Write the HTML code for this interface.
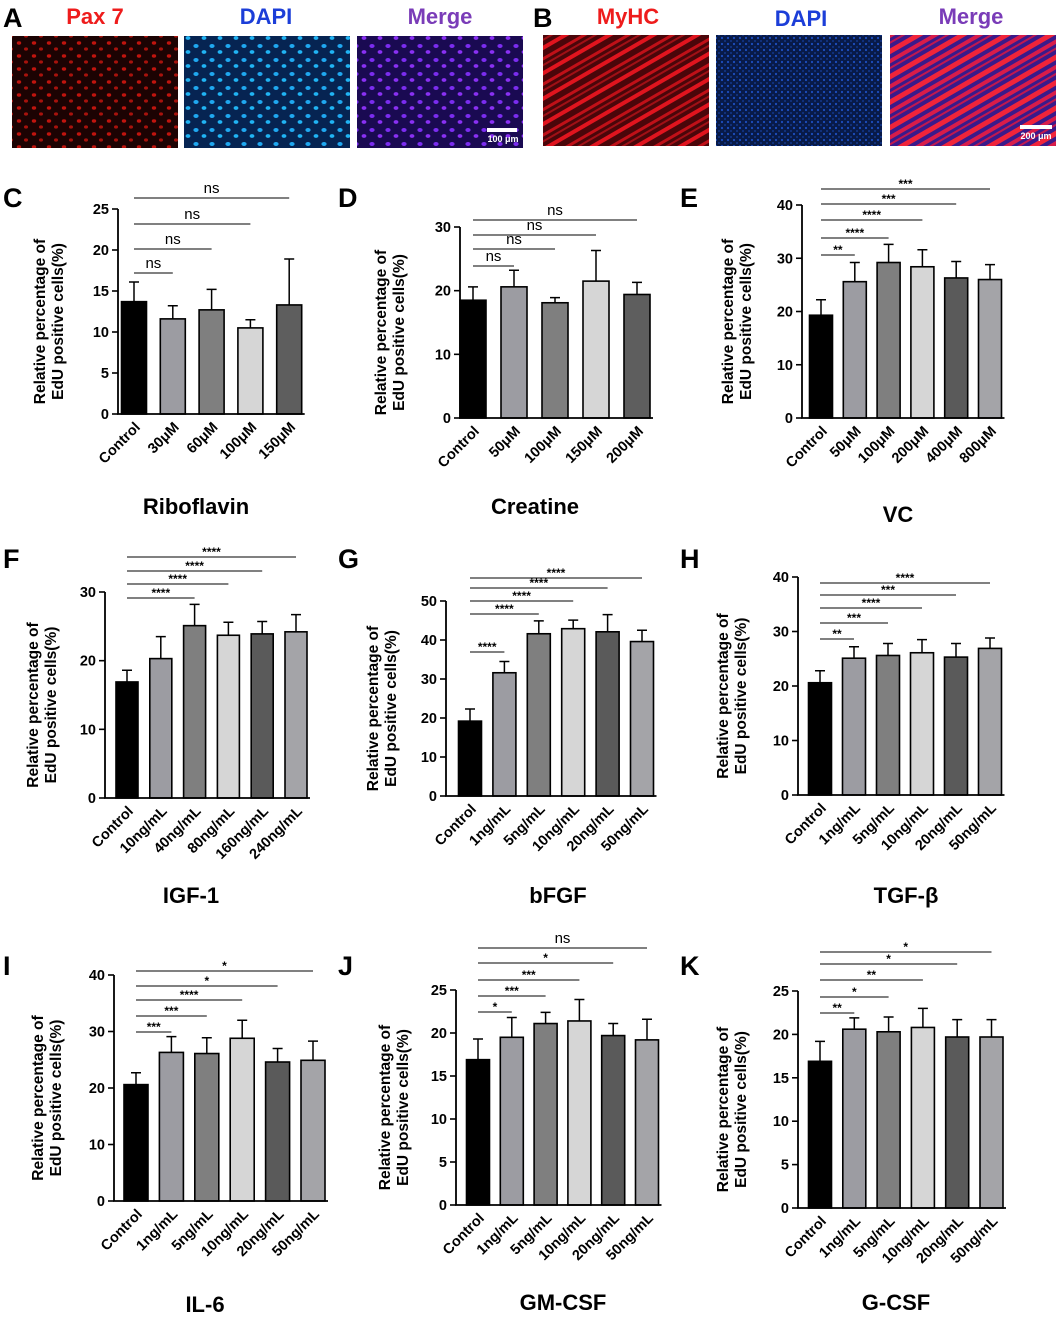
<!DOCTYPE html>
<html><head><meta charset="utf-8"><style>
html,body{margin:0;padding:0;background:#fff;}
svg{display:block;font-family:"Liberation Sans",Arial,sans-serif;}
</style></head><body>
<svg id="fig" width="1059" height="1318" viewBox="0 0 1059 1318" xmlns="http://www.w3.org/2000/svg">
<defs>
<pattern id="pRed" width="15" height="13" patternUnits="userSpaceOnUse"><rect width="15" height="13" fill="#1c0303"/><ellipse cx="4" cy="4" rx="2.2" ry="1.7" fill="#c0140e"/><ellipse cx="11" cy="10" rx="2" ry="1.6" fill="#a8120c"/></pattern>
<pattern id="pBlue" width="16" height="14" patternUnits="userSpaceOnUse"><rect width="16" height="14" fill="#062452"/><ellipse cx="4" cy="4" rx="2.6" ry="2" fill="#1fa8f0"/><ellipse cx="12" cy="10" rx="2.4" ry="1.9" fill="#20b4f4"/></pattern>
<pattern id="pPur" width="16" height="14" patternUnits="userSpaceOnUse"><rect width="16" height="14" fill="#1a0a52"/><ellipse cx="4" cy="4" rx="2.6" ry="2" fill="#7b2cf0"/><ellipse cx="12" cy="10" rx="2.4" ry="1.9" fill="#8a30f4"/></pattern>
<pattern id="pMy" width="40" height="22" patternUnits="userSpaceOnUse" patternTransform="rotate(-30)"><rect width="40" height="22" fill="#4a060a"/><rect y="3" width="40" height="4" fill="#e0141e"/><rect y="13" width="40" height="3" fill="#c01018"/><rect y="19" width="40" height="2" fill="#a01016"/></pattern>
<pattern id="pDB" width="6" height="6" patternUnits="userSpaceOnUse"><rect width="6" height="6" fill="#081a48"/><circle cx="2" cy="2" r="1.1" fill="#1d4ec0"/><circle cx="5" cy="5" r="0.9" fill="#1540a0"/></pattern>
<pattern id="pMB" width="40" height="22" patternUnits="userSpaceOnUse" patternTransform="rotate(-30)"><rect width="40" height="22" fill="#3a1a8a"/><rect y="3" width="40" height="5" fill="#f0243a"/><rect y="12" width="40" height="4" fill="#d81c4a"/><rect y="19" width="40" height="2" fill="#c01850"/></pattern>
</defs>
<g id="top">
<text x="3" y="27" font-size="27" font-weight="bold">A</text>
<text x="95" y="24" font-size="22" font-weight="bold" fill="#ee1c1c" text-anchor="middle">Pax 7</text>
<text x="266" y="24" font-size="22" font-weight="bold" fill="#1c3ed8" text-anchor="middle">DAPI</text>
<text x="440" y="24" font-size="22" font-weight="bold" fill="#7a3cb8" text-anchor="middle">Merge</text>
<rect x="12" y="36" width="166" height="112" fill="url(#pRed)"/>
<rect x="184" y="36" width="166" height="112" fill="url(#pBlue)"/>
<rect x="357" y="36" width="166" height="112" fill="url(#pPur)"/>
<rect x="487" y="128" width="30" height="4" fill="#fff"/>
<text x="503" y="142" font-size="9" font-weight="bold" fill="#fff" text-anchor="middle">100 μm</text>
<text x="533" y="27" font-size="27" font-weight="bold">B</text>
<text x="628" y="24" font-size="22" font-weight="bold" fill="#ee1c1c" text-anchor="middle">MyHC</text>
<text x="801" y="26" font-size="22" font-weight="bold" fill="#1c3ed8" text-anchor="middle">DAPI</text>
<text x="971" y="24" font-size="22" font-weight="bold" fill="#7a3cb8" text-anchor="middle">Merge</text>
<rect x="543" y="35" width="166" height="111" fill="url(#pMy)"/>
<rect x="716" y="35" width="166" height="111" fill="url(#pDB)"/>
<rect x="890" y="35" width="166" height="111" fill="url(#pMB)"/>
<rect x="1020" y="125" width="32" height="4" fill="#fff"/>
<text x="1036" y="139" font-size="9" font-weight="bold" fill="#fff" text-anchor="middle">200 μm</text>
</g>
</svg>
<script>
// ---- data arrays ----
const ribCats=["Control","30μM","60μM","100μM","150μM"];
const ribVals=[13.7,11.6,12.7,10.5,13.3];
const ribErr=[16.1,13.2,15.2,11.5,18.9];
const ribSig=[[0,1,"ns"],[0,2,"ns"],[0,3,"ns"],[0,4,"ns"]];
const ribTicks=[0,5,10,15,20,25];

const creCats=["Control","50μM","100μM","150μM","200μM"];
const creVals=[18.5,20.6,18.1,21.5,19.4];
const creErr=[20.6,23.2,18.9,26.3,21.3];
const creSig=[[0,1,"ns"],[0,2,"ns"],[0,3,"ns"],[0,4,"ns"]];
const creTicks=[0,10,20,30];

const vcCats=["Control","50μM","100μM","200μM","400μM","800μM"];
const vcVals=[19.3,25.6,29.2,28.4,26.3,26.0];
const vcErr=[22.2,29.2,32.6,31.6,29.4,28.8];
const vcSig=[[0,1,"**"],[0,2,"****"],[0,3,"****"],[0,4,"***"],[0,5,"***"]];
const vcTicks=[0,10,20,30,40];

const igfCats=["Control","10ng/mL","40ng/mL","80ng/mL","160ng/mL","240ng/mL"];
const igfVals=[16.9,20.3,25.1,23.7,23.9,24.2];
const igfErr=[18.6,23.5,28.2,25.6,25.7,26.7];
const igfSig=[[0,2,"****"],[0,3,"****"],[0,4,"****"],[0,5,"****"]];
const igfTicks=[0,10,20,30];

const bfgfCats=["Control","1ng/mL","5ng/mL","10ng/mL","20ng/mL","50ng/mL"];
const bfgfVals=[19.2,31.6,41.6,42.9,42.1,39.6];
const bfgfErr=[22.3,34.5,44.9,45.1,46.5,42.5];
const bfgfSig=[[0,1,"****"],[0,2,"****"],[0,3,"****"],[0,4,"****"],[0,5,"****"]];
const bfgfTicks=[0,10,20,30,40,50];

const tgfCats=["Control","1ng/mL","5ng/mL","10ng/mL","20ng/mL","50ng/mL"];
const tgfVals=[20.6,25.1,25.6,26.1,25.3,26.9];
const tgfErr=[22.8,27.2,27.8,28.5,27.8,28.8];
const tgfSig=[[0,1,"**"],[0,2,"***"],[0,3,"****"],[0,4,"***"],[0,5,"****"]];
const tgfTicks=[0,10,20,30,40];

const il6Cats=["Control","1ng/mL","5ng/mL","10ng/mL","20ng/mL","50ng/mL"];
const il6Vals=[20.6,26.3,26.1,28.8,24.6,24.9];
const il6Err=[22.7,29.1,28.9,32.0,27.0,28.3];
const il6Sig=[[0,1,"***"],[0,2,"***"],[0,3,"****"],[0,4,"*"],[0,5,"*"]];
const il6Ticks=[0,10,20,30,40];

const gmCats=["Control","1ng/mL","5ng/mL","10ng/mL","20ng/mL","50ng/mL"];
const gmVals=[16.9,19.5,21.1,21.4,19.7,19.2];
const gmErr=[19.3,21.8,22.4,23.9,21.1,21.6];
const gmSig=[[0,1,"*"],[0,2,"***"],[0,3,"***"],[0,4,"*"],[0,5,"ns"]];
const gmTicks=[0,5,10,15,20,25];

const gcCats=["Control","1ng/mL","5ng/mL","10ng/mL","20ng/mL","50ng/mL"];
const gcVals=[16.9,20.6,20.3,20.8,19.7,19.7];
const gcErr=[19.2,21.9,22.0,23.0,21.7,21.7];
const gcSig=[[0,1,"**"],[0,2,"*"],[0,3,"**"],[0,4,"*"],[0,5,"*"]];
const gcTicks=[0,5,10,15,20,25];

const col5=["#000000","#9c9ca2","#7f7f7f","#d6d6d6","#5e5e5e"];
const col6=["#000000","#9c9ca2","#7f7f7f","#d6d6d6","#5a5a5a","#a4a4a8"];

const NS="http://www.w3.org/2000/svg";
const svg=document.getElementById('fig');
function mk(tag,attrs,parent,text){const e=document.createElementNS(NS,tag);for(const k in attrs)e.setAttribute(k,attrs[k]);if(text!==undefined)e.textContent=text;parent.appendChild(e);return e;}

function panel(p){
  const g=mk('g',{},svg);
  
  
  const max=p.ticks[p.ticks.length-1];
  const y=v=>p.y0-(v/max)*(p.y0-p.yTop);
  const xc=i=>p.first+i*p.sp;
  const L=mk('text',{x:p.lx,y:p.ly,'font-size':27,'font-weight':'bold'},g,p.letter);
  
  
  p.vals.forEach((v,i)=>{
    const b=mk('rect',{x:xc(i)-p.bw/2,y:y(v),width:p.bw,height:p.y0-y(v),fill:p.cols[i],stroke:'#000','stroke-width':1.6},g);
    
    
    const e=mk('path',{d:`M${xc(i)},${y(v)}V${y(p.errs[i])}M${xc(i)-5},${y(p.errs[i])}H${xc(i)+5}`,stroke:'#000','stroke-width':1.5,fill:'none'},g);
    
    
    const t=mk('text',{x:0,y:0,'font-size':14.5,'font-weight':'bold','text-anchor':'end',transform:`translate(${xc(i)+7},${p.y0+14}) rotate(-45)`},g,p.cats[i]);
    
    
  });
  const xEnd=xc(p.vals.length-1)+p.bw/2+3;
  const ax=mk('path',{d:`M${p.ax},${p.yTop}V${p.y0}H${xEnd}`,stroke:'#000','stroke-width':1.8,fill:'none'},g);
  
  
  p.ticks.forEach(t=>{
    mk('path',{d:`M${p.ax-6},${y(t)}H${p.ax}`,stroke:'#000','stroke-width':1.6},g);
    const tl=mk('text',{x:p.ax-9,y:y(t)+5,'font-size':14.5,'font-weight':'bold','text-anchor':'end'},g,t);
    
    
  });
  const cy=(p.y0+p.yTop)/2+10;
  const yt=mk('text',{x:0,y:0,'font-size':15.5,'font-weight':'bold','text-anchor':'middle',transform:`translate(${p.ylx},${cy}) rotate(-90)`},g);
  
  
  mk('tspan',{x:0,dy:0},yt,'Relative percentage of');
  mk('tspan',{x:0,dy:18},yt,'EdU positive cells(%)');
  const tt=mk('text',{x:p.tx,y:p.ty,'font-size':22,'font-weight':'bold','text-anchor':'middle'},g,p.title);
  
  
  p.sig.forEach((s,k)=>{
    const ly=p.lv[k];
    const ln=mk('path',{d:`M${xc(s[0])},${ly}H${xc(s[1])}`,stroke:'#000','stroke-width':1},g);
    
    
    const ns=s[2]==='ns';
    const st=mk('text',{x:(xc(s[0])+xc(s[1]))/2,y:ns?ly-5:ly-1,'font-size':ns?15:12,'font-weight':ns?'normal':'bold','text-anchor':'middle'},g,s[2]);
    
    
  });
}

panel({id:'riboflavin',letter:'C',lx:3,ly:207,ax:118,y0:414,yTop:209,ticks:ribTicks,first:134,sp:38.8,bw:25,vals:ribVals,errs:ribErr,cats:ribCats,cols:col5,sig:ribSig,lv:[273,249,224,198],title:'Riboflavin',tx:196,ty:514,ylx:45});
panel({id:'creatine',letter:'D',lx:338,ly:207,ax:460,y0:418,yTop:227,ticks:creTicks,first:473,sp:41,bw:26,vals:creVals,errs:creErr,cats:creCats,cols:col5,sig:creSig,lv:[266,249,235,220],title:'Creatine',tx:535,ty:514,ylx:386});
panel({id:'vc',letter:'E',lx:680,ly:207,ax:802,y0:418,yTop:205,ticks:vcTicks,first:821,sp:33.8,bw:23,vals:vcVals,errs:vcErr,cats:vcCats,cols:col6,sig:vcSig,lv:[255,238,220,204,189],title:'VC',tx:898,ty:522,ylx:733});
panel({id:'igf1',letter:'F',lx:3,ly:568,ax:105,y0:798,yTop:592,ticks:igfTicks,first:127,sp:33.8,bw:22,vals:igfVals,errs:igfErr,cats:igfCats,cols:col6,sig:igfSig,lv:[598,584,571,557],title:'IGF-1',tx:191,ty:903,ylx:38});
panel({id:'bfgf',letter:'G',lx:338,ly:568,ax:446,y0:796,yTop:601,ticks:bfgfTicks,first:470,sp:34.4,bw:23,vals:bfgfVals,errs:bfgfErr,cats:bfgfCats,cols:col6,sig:bfgfSig,lv:[652,614,601,588,578],title:'bFGF',tx:558,ty:903,ylx:378});
panel({id:'tgfb',letter:'H',lx:680,ly:568,ax:798,y0:795,yTop:577,ticks:tgfTicks,first:820,sp:34,bw:23,vals:tgfVals,errs:tgfErr,cats:tgfCats,cols:col6,sig:tgfSig,lv:[639,623,608,595,583],title:'TGF-β',tx:906,ty:903,ylx:728});
panel({id:'il6',letter:'I',lx:3,ly:975,ax:114,y0:1201,yTop:975,ticks:il6Ticks,first:136,sp:35.4,bw:24,vals:il6Vals,errs:il6Err,cats:il6Cats,cols:col6,sig:il6Sig,lv:[1032,1016,1000,986,971],title:'IL-6',tx:205,ty:1312,ylx:43});
panel({id:'gmcsf',letter:'J',lx:338,ly:975,ax:456,y0:1205,yTop:990,ticks:gmTicks,first:478,sp:33.8,bw:23,vals:gmVals,errs:gmErr,cats:gmCats,cols:col6,sig:gmSig,lv:[1012,996,980,963,948],title:'GM-CSF',tx:563,ty:1310,ylx:390});
panel({id:'gcsf',letter:'K',lx:680,ly:975,ax:798,y0:1208,yTop:991,ticks:gcTicks,first:820,sp:34.3,bw:23,vals:gcVals,errs:gcErr,cats:gcCats,cols:col6,sig:gcSig,lv:[1013,997,980,964,952],title:'G-CSF',tx:896,ty:1310,ylx:728});
</script>
</body></html>
